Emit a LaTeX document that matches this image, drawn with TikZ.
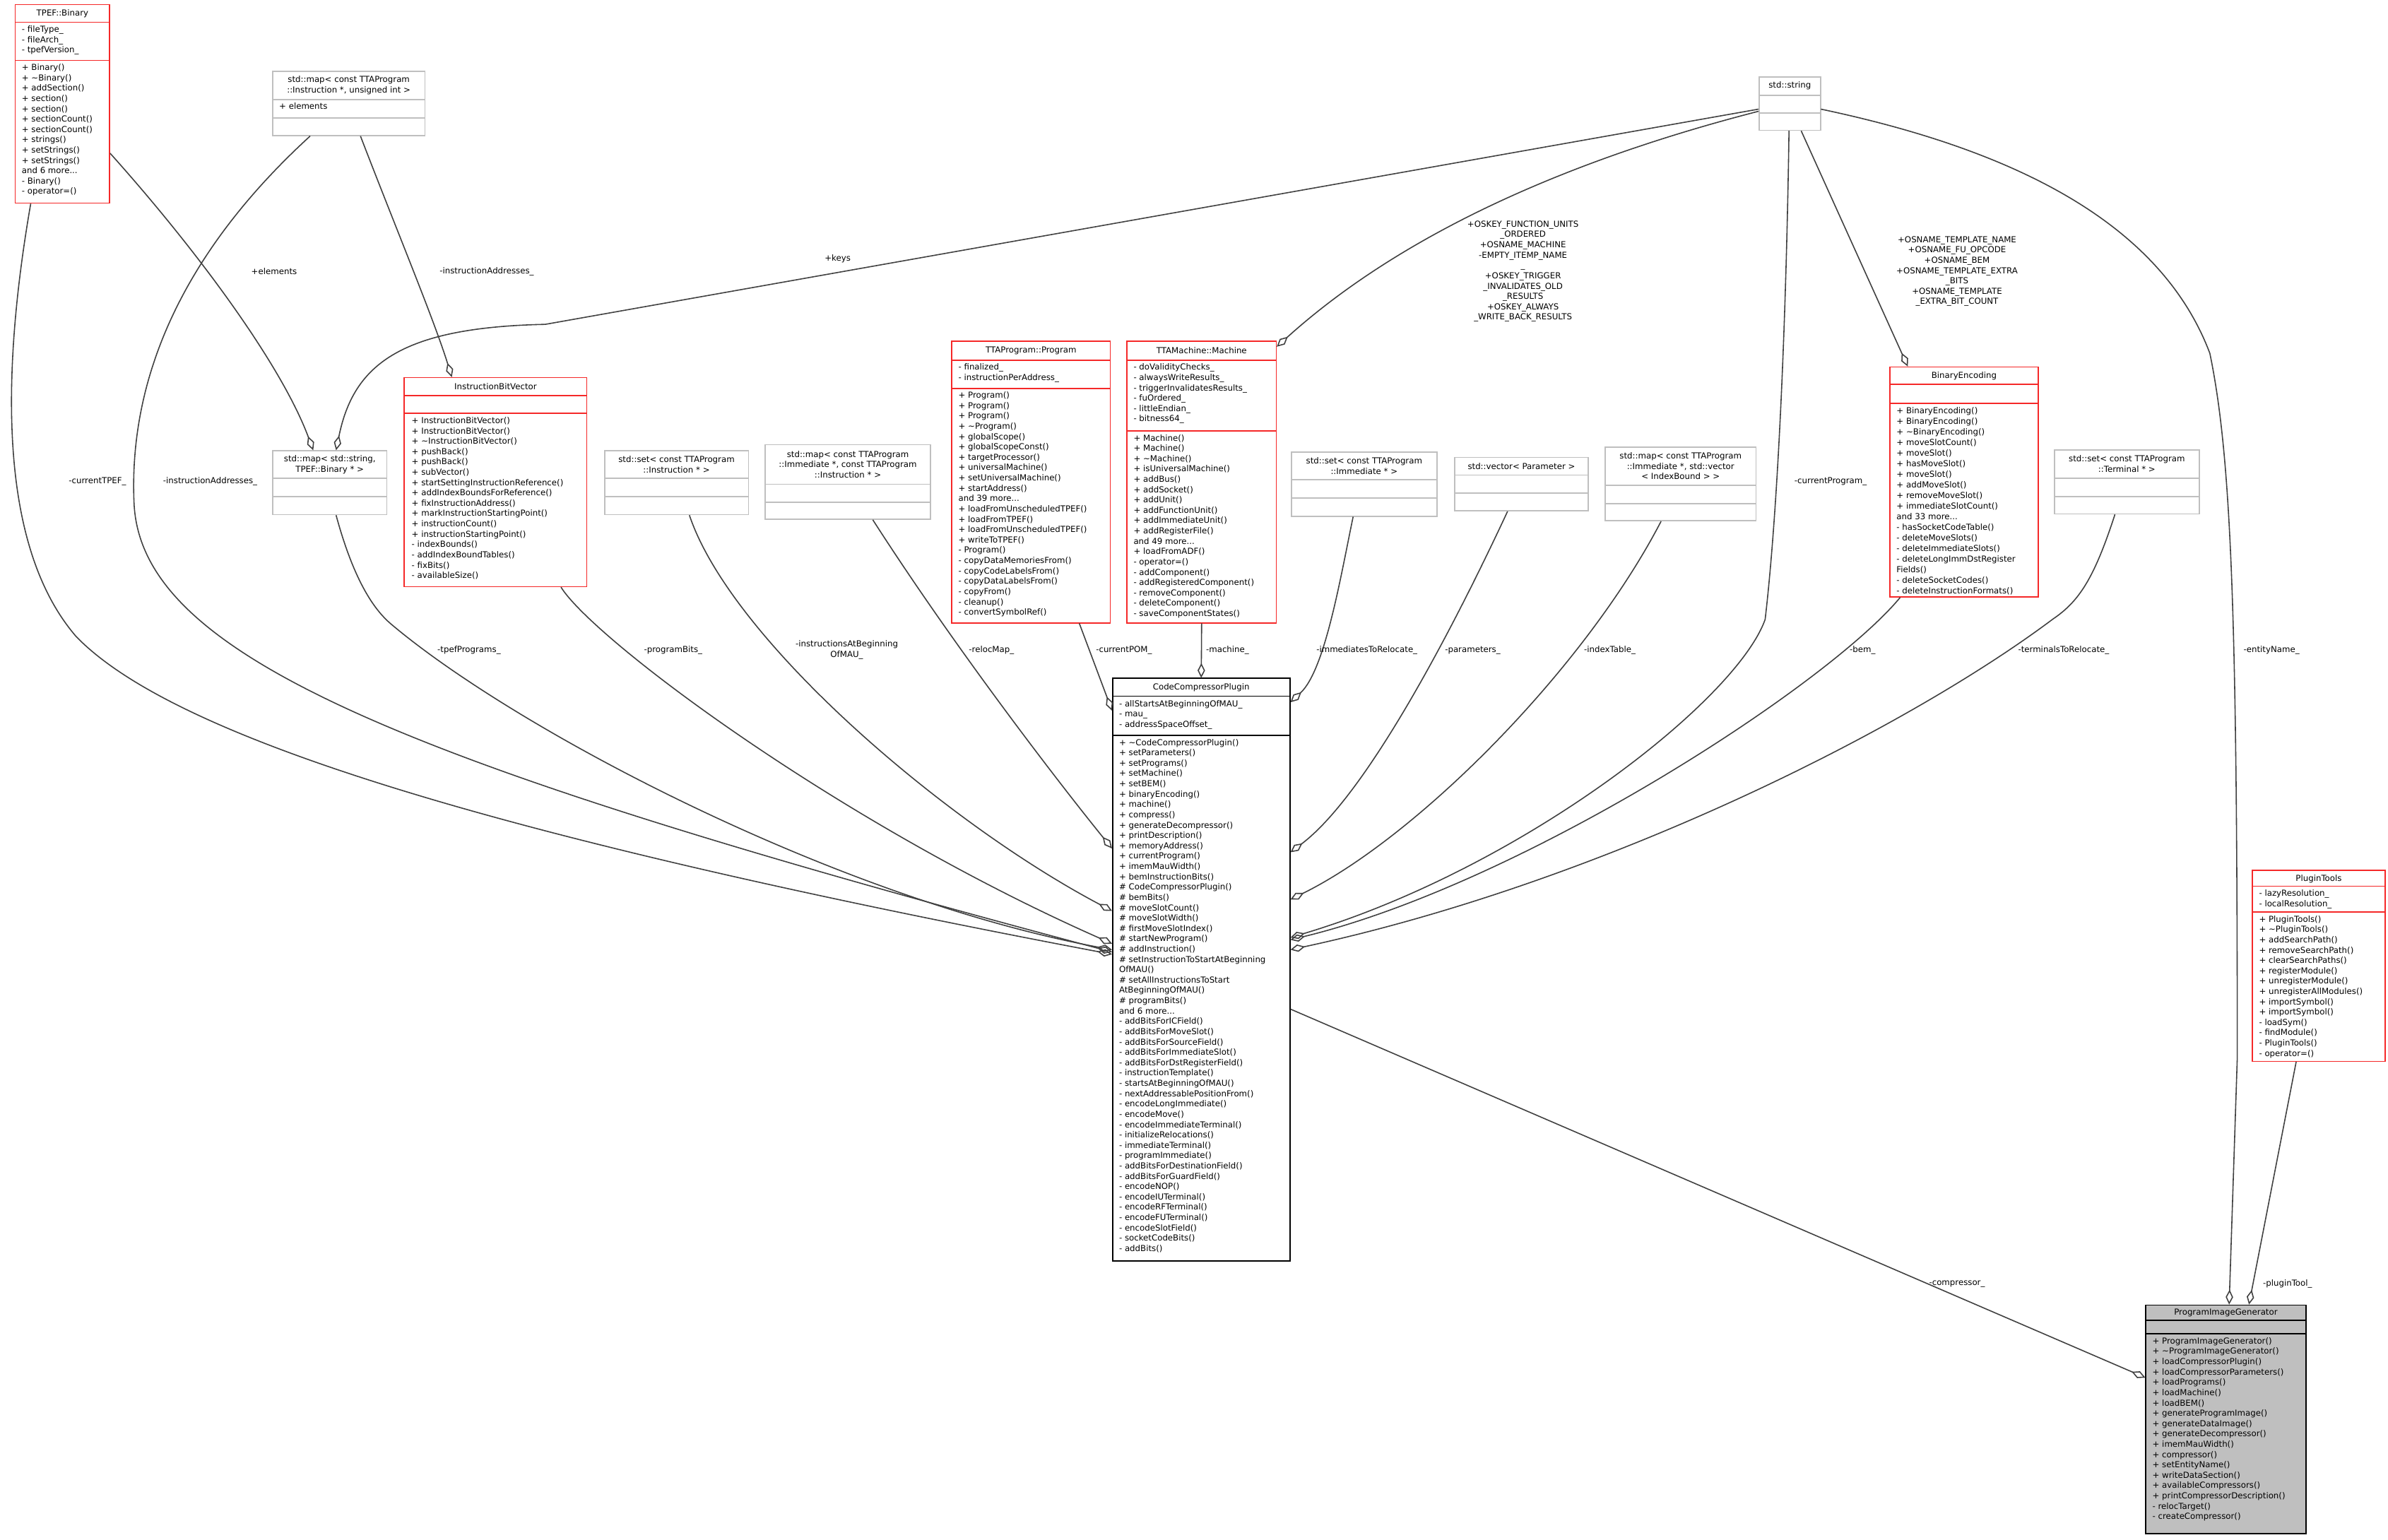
\documentclass[tikz,border=0pt]{standalone}
\usepackage{fontspec}
\setmainfont{DejaVu Sans}
\newfontfamily\wf{DejaVu Sans}
\usetikzlibrary{arrows.meta,fit,calc}
\definecolor{bred}{RGB}{245,40,40}
\definecolor{bgrey}{RGB}{191,191,191}
\definecolor{lgrey}{RGB}{64,64,64}
\newcommand\ubox[9]{%
  \fill[#9] (#2,#3) rectangle (#4,#5);
  \draw[#8, line width=0.5pt] (#2,#3) rectangle (#4,#5) (#2,#6)--(#4,#6) (#2,#7)--(#4,#7);
  \node[fit={(#2,#3)(#4,#5)}, inner sep=0pt] (#1) {};}
\tikzset{
  txt/.style={font=\wf\fontsize{3.35}{4.16}\selectfont, inner sep=0pt, align=left, anchor=north west},
  tit/.style={font=\wf\fontsize{3.35}{4.16}\selectfont, inner sep=0pt, align=center},
  lbl/.style={font=\wf\fontsize{3.35}{4.16}\selectfont, inner sep=0pt, align=center},
  agg/.style={draw=lgrey, line width=0.45pt, -{Diamond[open, length=6pt, width=3pt]}},
}
\begin{document}
\begin{tikzpicture}[x=0.021556cm, y=-0.021556cm]
\fill[white] (0,0) rectangle (1568,1011);
\useasboundingbox (0,0) rectangle (1568,1011);

% TPEF::Binary
\ubox{tpef}{10}{3}{72}{133.4}{14.6}{39.7}{bred}{white}
\node[tit] (tpeft) at (41,8.8) {TPEF::Binary};
\node[txt] (tpefa) at (14,16.6) {- fileType\_\\- fileArch\_\\- tpefVersion\_};
\node[txt] (tpefm) at (14,41.7) {+ Binary()\\+ \textasciitilde Binary()\\+ addSection()\\+ section()\\+ section()\\+ sectionCount()\\+ sectionCount()\\+ strings()\\+ setStrings()\\+ setStrings()\\and 6 more...\\- Binary()\\- operator=()};

% std::map instr
\ubox{mapinstr}{179}{47}{279}{89}{65.4}{77.4}{bgrey}{white}
\node[tit] (mapinstrt) at (229,56) {std::map< const TTAProgram\\::Instruction *, unsigned int >};
\node[txt] (mapinstra) at (183,67.4) {+ elements};

% std::map string binary
\ubox{mapsb}{179}{296}{254}{338}{314}{326}{bgrey}{white}
\node[tit] (mapsbt) at (216.5,305) {std::map< std::string,\\TPEF::Binary * >};

% InstructionBitVector
\ubox{ibv}{265.5}{248}{385.3}{385.3}{259.7}{271.4}{bred}{white}
\node[tit] (ibvt) at (325.4,254) {InstructionBitVector};
\node[txt] (ibvm) at (270,273.6) {+ InstructionBitVector()\\+ InstructionBitVector()\\+ \textasciitilde InstructionBitVector()\\+ pushBack()\\+ pushBack()\\+ subVector()\\+ startSettingInstructionReference()\\+ addIndexBoundsForReference()\\+ fixInstructionAddress()\\+ markInstructionStartingPoint()\\+ instructionCount()\\+ instructionStartingPoint()\\- indexBounds()\\- addIndexBoundTables()\\- fixBits()\\- availableSize()};

% std::set instruction
\ubox{setinstr}{397}{296}{491.5}{338}{314}{326}{bgrey}{white}
\node[tit] (setinstrt) at (444.2,305) {std::set< const TTAProgram\\::Instruction * >};

% std::map imm instr
\ubox{mapii}{502.4}{292}{611}{341}{318}{330}{bgrey}{white}
\node[tit] (mapiit) at (556.7,305) {std::map< const TTAProgram\\::Immediate *, const TTAProgram\\::Instruction * >};

% TTAProgram::Program
\ubox{prog}{625}{224}{729}{409}{236.5}{255}{bred}{white}
\node[tit] (progt) at (677,230.3) {TTAProgram::Program};
\node[txt] (proga) at (629,238.5) {- finalized\_\\- instructionPerAddress\_};
\node[txt] (progm) at (629,257) {+ Program()\\+ Program()\\+ Program()\\+ \textasciitilde Program()\\+ globalScope()\\+ globalScopeConst()\\+ targetProcessor()\\+ universalMachine()\\+ setUniversalMachine()\\+ startAddress()\\and 39 more...\\+ loadFromUnscheduledTPEF()\\+ loadFromTPEF()\\+ loadFromUnscheduledTPEF()\\+ writeToTPEF()\\- Program()\\- copyDataMemoriesFrom()\\- copyCodeLabelsFrom()\\- copyDataLabelsFrom()\\- copyFrom()\\- cleanup()\\- convertSymbolRef()};

% TTAMachine::Machine
\ubox{mach}{740}{224}{838}{409}{236.5}{283}{bred}{white}
\node[tit] (macht) at (789,230.3) {TTAMachine::Machine};
\node[txt] (macha) at (744,238.5) {- doValidityChecks\_\\- alwaysWriteResults\_\\- triggerInvalidatesResults\_\\- fuOrdered\_\\- littleEndian\_\\- bitness64\_};
\node[txt] (machm) at (744,285) {+ Machine()\\+ Machine()\\+ \textasciitilde Machine()\\+ isUniversalMachine()\\+ addBus()\\+ addSocket()\\+ addUnit()\\+ addFunctionUnit()\\+ addImmediateUnit()\\+ addRegisterFile()\\and 49 more...\\+ loadFromADF()\\- operator=()\\- addComponent()\\- addRegisteredComponent()\\- removeComponent()\\- deleteComponent()\\- saveComponentStates()};

% std::set immediate
\ubox{setimm}{848}{297}{943.4}{339}{315}{327}{bgrey}{white}
\node[tit] (setimmt) at (895.7,306) {std::set< const TTAProgram\\::Immediate * >};

% std::vector Parameter
\ubox{vecpar}{955.2}{300.4}{1042.7}{335.5}{312}{323.8}{bgrey}{white}
\node[tit] (vecpart) at (999,306.2) {std::vector< Parameter >};

% std::map imm indexbound
\ubox{mapib}{1054}{293.5}{1153}{342}{318.6}{330.6}{bgrey}{white}
\node[tit] (mapibt) at (1103.5,306) {std::map< const TTAProgram\\::Immediate *, std::vector\\< IndexBound > >};

% std::string
\ubox{str}{1155}{50.4}{1195.3}{85.6}{62.5}{74.2}{bgrey}{white}
\node[tit] (strt) at (1175.2,56.4) {std::string};

% BinaryEncoding
\ubox{be}{1241}{241}{1338.2}{392}{252.5}{265}{bred}{white}
\node[tit] (bet) at (1289.6,246.8) {BinaryEncoding};
\node[txt,font=\wf\fontsize{3.35}{4.28}\selectfont] (bem) at (1245,267) {+ BinaryEncoding()\\+ BinaryEncoding()\\+ \textasciitilde BinaryEncoding()\\+ moveSlotCount()\\+ moveSlot()\\+ hasMoveSlot()\\+ moveSlot()\\+ addMoveSlot()\\+ removeMoveSlot()\\+ immediateSlotCount()\\and 33 more...\\- hasSocketCodeTable()\\- deleteMoveSlots()\\- deleteImmediateSlots()\\- deleteLongImmDstRegister\\Fields()\\- deleteSocketCodes()\\- deleteInstructionFormats()};

% std::set terminal
\ubox{setterm}{1349}{295.5}{1444}{337.5}{314}{326}{bgrey}{white}
\node[tit] (settermt) at (1396.5,304.7) {std::set< const TTAProgram\\::Terminal * >};

% CodeCompressorPlugin
\ubox{ccp}{730.5}{445.5}{847}{828}{457.2}{483}{black}{white}
\node[tit] (ccpt) at (788.7,451.3) {CodeCompressorPlugin};
\node[txt] (ccpa) at (734.5,459.5) {- allStartsAtBeginningOfMAU\_\\- mau\_\\- addressSpaceOffset\_};
\node[txt] (ccpm) at (734.5,485) {+ \textasciitilde CodeCompressorPlugin()\\+ setParameters()\\+ setPrograms()\\+ setMachine()\\+ setBEM()\\+ binaryEncoding()\\+ machine()\\+ compress()\\+ generateDecompressor()\\+ printDescription()\\+ memoryAddress()\\+ currentProgram()\\+ imemMauWidth()\\+ bemInstructionBits()\\\# CodeCompressorPlugin()\\\# bemBits()\\\# moveSlotCount()\\\# moveSlotWidth()\\\# firstMoveSlotIndex()\\\# startNewProgram()\\\# addInstruction()\\\# setInstructionToStartAtBeginning\\OfMAU()\\\# setAllInstructionsToStart\\AtBeginningOfMAU()\\\# programBits()\\and 6 more...\\- addBitsForICField()\\- addBitsForMoveSlot()\\- addBitsForSourceField()\\- addBitsForImmediateSlot()\\- addBitsForDstRegisterField()\\- instructionTemplate()\\- startsAtBeginningOfMAU()\\- nextAddressablePositionFrom()\\- encodeLongImmediate()\\- encodeMove()\\- encodeImmediateTerminal()\\- initializeRelocations()\\- immediateTerminal()\\- programImmediate()\\- addBitsForDestinationField()\\- addBitsForGuardField()\\- encodeNOP()\\- encodeIUTerminal()\\- encodeRFTerminal()\\- encodeFUTerminal()\\- encodeSlotField()\\- socketCodeBits()\\- addBits()};

% PluginTools
\ubox{pt}{1479}{571.5}{1566}{697}{582}{599}{bred}{white}
\node[tit] (ptt) at (1522.5,577) {PluginTools};
\node[txt] (pta) at (1483,584) {- lazyResolution\_\\- localResolution\_};
\node[txt] (ptm) at (1483,601) {+ PluginTools()\\+ \textasciitilde PluginTools()\\+ addSearchPath()\\+ removeSearchPath()\\+ clearSearchPaths()\\+ registerModule()\\+ unregisterModule()\\+ unregisterAllModules()\\+ importSymbol()\\+ importSymbol()\\- loadSym()\\- findModule()\\- PluginTools()\\- operator=()};

% ProgramImageGenerator
\ubox{pig}{1409}{857}{1514}{1007}{867}{876}{black}{bgrey}
\node[tit] (pigt) at (1461.5,862) {ProgramImageGenerator};
\node[txt] (pigm) at (1413,878) {+ ProgramImageGenerator()\\+ \textasciitilde ProgramImageGenerator()\\+ loadCompressorPlugin()\\+ loadCompressorParameters()\\+ loadPrograms()\\+ loadMachine()\\+ loadBEM()\\+ generateProgramImage()\\+ generateDataImage()\\+ generateDecompressor()\\+ imemMauWidth()\\+ compressor()\\+ setEntityName()\\+ writeDataSection()\\+ availableCompressors()\\+ printCompressorDescription()\\- relocTarget()\\- createCompressor()};

% ---- connectors ----
\draw[agg] ($(tpef.south west)+(10.5,0)$) .. controls (0,250) and (0,360) .. (50,418) .. controls (110,480) and (300,545) .. ($(ccp.north west)+(0,181.5)$);
\draw[agg] ($(tpef.north east)+(0,98)$) .. controls (130,165) and (185,240) .. ($(mapsb.north west)+(27,0)$);
\draw[agg] ($(mapinstr.south west)+(25,0)$) .. controls (110,175) and (85,260) .. (88,330) .. controls (92,430) and (260,500) .. ($(ccp.north west)+(0,180)$);
\draw[agg] ($(mapinstr.south west)+(58,0)$) .. controls (260,150) and (285,210) .. ($(ibv.north west)+(31.5,0)$);
\draw[agg] ($(str.north west)+(0,21.6)$) -- (358,213) .. controls (262,215) and (232,240) .. ($(mapsb.north west)+(42,0)$);
\draw[agg] ($(mapsb.south west)+(42,0)$) .. controls (232,380) and (245,400) .. (257,410) .. controls (340,480) and (550,590) .. ($(ccp.north west)+(0,178.5)$);
\draw[agg] ($(ibv.south west)+(103.2,0)$) .. controls (390,420) and (550,540) .. ($(ccp.north west)+(0,174.5)$);
\draw[agg] ($(setinstr.south west)+(56,0)$) .. controls (480,420) and (620,540) .. ($(ccp.north west)+(0,153)$);
\draw[agg] ($(mapii.south west)+(71,0)$) .. controls (630,430) and (700,520) .. ($(ccp.north west)+(0,112)$);
\draw[agg] ($(prog.south west)+(84,0)$) -- ($(ccp.north west)+(0,21.5)$);
\draw[agg] (mach.south) -- (ccp.north);
\draw[agg] ($(str.north west)+(0,23)$) .. controls (1050,100) and (930,145) .. ($(mach.north east)+(0,4)$);
\draw[agg] ($(setimm.south west)+(40.8,0)$) .. controls (880,380) and (870,440) .. ($(ccp.north east)+(0,16)$);
\draw[agg] ($(vecpar.south west)+(35,0)$) .. controls (960,400) and (900,520) .. ($(ccp.north east)+(0,114.5)$);
\draw[agg] ($(mapib.south west)+(37,0)$) .. controls (1040,440) and (930,550) .. ($(ccp.north east)+(0,145.5)$);
\draw[agg] ($(str.south west)+(20,0)$) .. controls (1173,200) and (1168,330) .. (1159,406.8) .. controls (1140,460) and (1000,570) .. ($(ccp.north east)+(0,170.5)$);
\draw[agg] ($(str.south west)+(28,0)$) -- ($(be.north west)+(12,0)$);
\draw[agg] ($(be.south west)+(7,0)$) .. controls (1200,450) and (1000,580) .. ($(ccp.north east)+(0,172)$);
\draw[agg] ($(setterm.south west)+(40,0)$) .. controls (1375,380) and (1365,395) .. (1348,406.5) .. controls (1250,480) and (1050,580) .. ($(ccp.north east)+(0,178.5)$);
\draw[agg] ($(str.north east)+(0,21.6)$) .. controls (1330,100) and (1420,150) .. (1451,232) .. controls (1465,300) and (1469,400) .. (1469,695) -- ($(pig.north west)+(55,0)$);
\draw[agg] ($(pt.south west)+(29,0)$) -- ($(pig.north west)+(68,0)$);
\draw[agg] ($(ccp.north east)+(0,217.5)$) -- ($(pig.north west)+(0,48)$);

% ---- labels ----
\node[lbl] (l1) at (64,316) {-currentTPEF\_};
\node[lbl] (l2) at (138,316) {-instructionAddresses\_};
\node[lbl] (l3) at (308,427) {-tpefPrograms\_};
\node[lbl] (l4) at (442,427) {-programBits\_};
\node[lbl] (l5) at (556,426.7) {-instructionsAtBeginning\\OfMAU\_};
\node[lbl] (l6) at (651,427) {-relocMap\_};
\node[lbl] (l7) at (738,427) {-currentPOM\_};
\node[lbl] (l8) at (806,427) {-machine\_};
\node[lbl] (l9) at (897.5,427) {-immediatesToRelocate\_};
\node[lbl] (l10) at (967,427) {-parameters\_};
\node[lbl] (l11) at (1057,427) {-indexTable\_};
\node[lbl] (l12) at (1202,316) {-currentProgram\_};
\node[lbl] (l13) at (1223,427) {-bem\_};
\node[lbl] (l14) at (1355,427) {-terminalsToRelocate\_};
\node[lbl] (l15) at (1491.5,427) {-entityName\_};
\node[lbl] (l16) at (180,178.3) {+elements};
\node[lbl] (l17) at (319.6,178.3) {-instructionAddresses\_};
\node[lbl] (l18) at (550,170) {+keys};
\node[lbl] (l19) at (1000,178.2) {+OSKEY\_FUNCTION\_UNITS\\\_ORDERED\\+OSNAME\_MACHINE\\-EMPTY\_ITEMP\_NAME\\\_\\+OSKEY\_TRIGGER\\\_INVALIDATES\_OLD\\\_RESULTS\\+OSKEY\_ALWAYS\\\_WRITE\_BACK\_RESULTS};
\node[lbl] (l20) at (1285,178.2) {+OSNAME\_TEMPLATE\_NAME\\+OSNAME\_FU\_OPCODE\\+OSNAME\_BEM\\+OSNAME\_TEMPLATE\_EXTRA\\\_BITS\\+OSNAME\_TEMPLATE\\\_EXTRA\_BIT\_COUNT};
\node[lbl] (l21) at (1285,843) {-compressor\_};
\node[lbl] (l22) at (1502,843) {-pluginTool\_};
\end{tikzpicture}
\end{document}
